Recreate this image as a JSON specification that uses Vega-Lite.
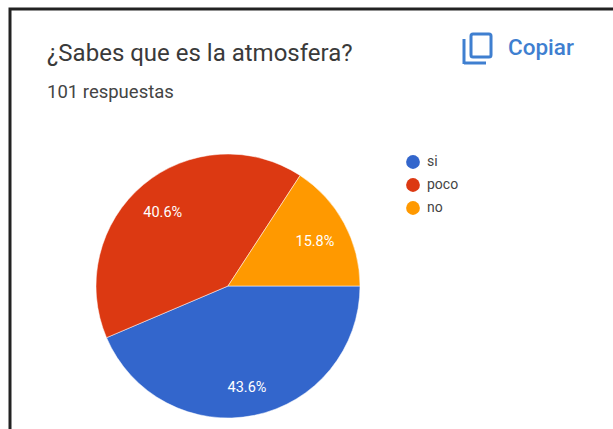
{
  "$schema": "https://vega.github.io/schema/vega-lite/v6.json",
  "width": 264,
  "height": 264,
  "autosize": {"type": "none"},
  "padding": {"left": 96, "top": 154, "right": 253, "bottom": 11},
  "background": "white",
  "title": {
    "text": "¿Sabes que es la atmosfera?",
    "subtitle": "101 respuestas",
    "anchor": "start",
    "frame": "group",
    "dx": -49,
    "offset": -94,
    "font": "Roboto",
    "fontSize": 24,
    "fontWeight": "normal",
    "color": "#3a3a3a",
    "subtitleFont": "Roboto",
    "subtitleFontSize": 18.5,
    "subtitleColor": "#444444",
    "subtitlePadding": 17
  },
  "config": {"view": {"stroke": null}},
  "data": {
    "values": [
      {"respuesta": "si", "porcentaje": 43.6, "orden": 1, "etiqueta": "43.6%"},
      {"respuesta": "poco", "porcentaje": 40.6, "orden": 2, "etiqueta": "40.6%"},
      {"respuesta": "no", "porcentaje": 15.8, "orden": 3, "etiqueta": "15.8%"}
    ]
  },
  "encoding": {
    "theta": {"field": "porcentaje", "type": "quantitative", "stack": true, "scale": {"domain": [0, 100], "range": [1.5708, 7.854]}},
    "order": {"field": "orden", "type": "ordinal"}
  },
  "layer": [
    {
      "mark": {"type": "arc", "stroke": "white", "strokeWidth": 0.5},
      "encoding": {
        "color": {
          "field": "respuesta",
          "type": "nominal",
          "scale": {"domain": ["si", "poco", "no"], "range": ["#3366cc", "#dc3912", "#ff9900"]},
          "legend": {
            "orient": "none",
            "legendX": 310,
            "legendY": 1,
            "title": null,
            "symbolType": "circle",
            "symbolSize": 190,
            "symbolStrokeWidth": 0,
            "labelFont": "Roboto",
            "labelFontSize": 14,
            "labelColor": "#444444",
            "labelOffset": 7,
            "rowPadding": 9
          }
        }
      }
    },
    {
      "mark": {"type": "text", "radius": 100, "dy": 4, "dx": -1, "font": "Roboto", "fontSize": 14.5, "color": "white"},
      "encoding": {"text": {"field": "etiqueta", "type": "nominal"}}
    },
    {
      "data": {"values": [{"texto": "Copiar"}]},
      "mark": {"type": "text", "x": 412, "y": -106, "align": "left", "baseline": "middle", "font": "Roboto", "fontSize": 22.5, "fontWeight": 500, "color": "#3f7fd0"},
      "encoding": {"text": {"field": "texto", "type": "nominal"}, "theta": null, "order": null}
    },
    {
      "data": {"values": [{"parte": "icono"}]},
      "mark": {"type": "rect", "fill": null, "stroke": "#3f7fd0", "strokeWidth": 3, "cornerRadius": 2},
      "encoding": {
        "theta": null, "order": null,
        "x": {"value": 375}, "x2": {"value": 395},
        "y": {"value": -120}, "y2": {"value": -97}
      }
    },
    {
      "data": {"values": [{"parte": "icono"}]},
      "mark": {"type": "rule", "stroke": "#3f7fd0", "strokeWidth": 3},
      "encoding": {
        "theta": null, "order": null,
        "x": {"value": 368},
        "y": {"value": -115}, "y2": {"value": -90}
      }
    },
    {
      "data": {"values": [{"parte": "icono"}]},
      "mark": {"type": "rule", "stroke": "#3f7fd0", "strokeWidth": 3},
      "encoding": {
        "theta": null, "order": null,
        "x": {"value": 368}, "x2": {"value": 390},
        "y": {"value": -91}
      }
    },
    {
      "data": {"values": [{"parte": "marco"}]},
      "mark": {"type": "rect", "fill": null, "stroke": "#222222", "strokeWidth": 3},
      "encoding": {
        "theta": null, "order": null,
        "x": {"value": -86}, "x2": {"value": 700},
        "y": {"value": -145}, "y2": {"value": 500}
      }
    }
  ]
}
